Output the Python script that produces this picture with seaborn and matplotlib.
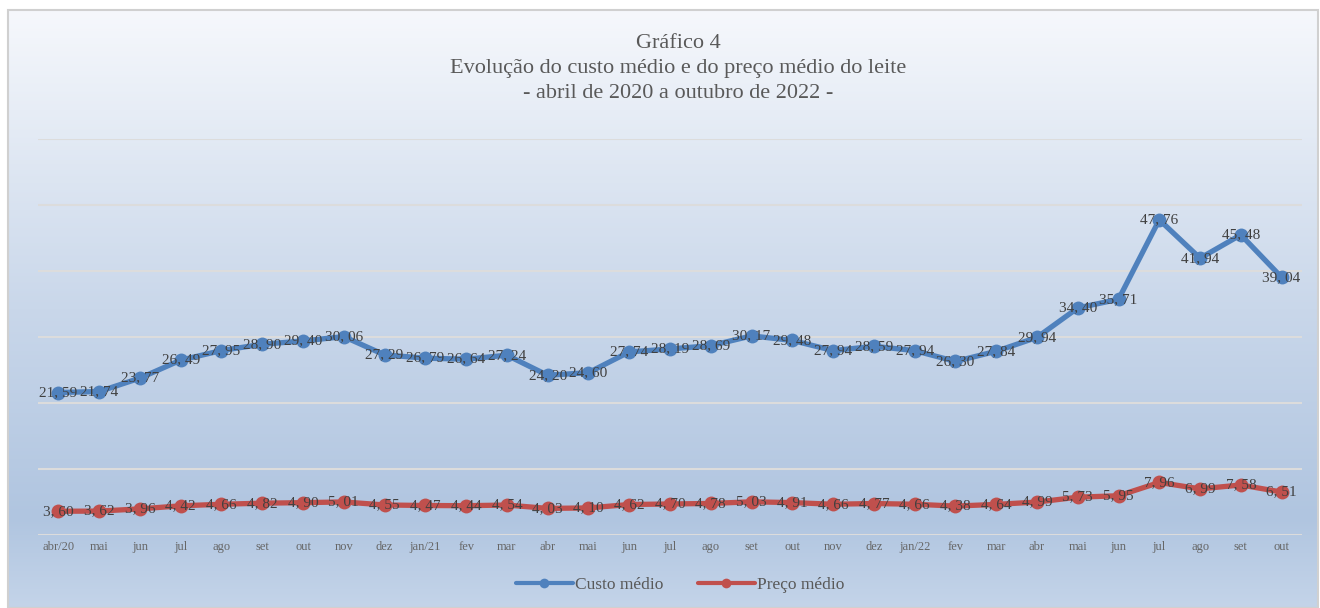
import numpy as np
import pandas as pd
import seaborn as sns
import matplotlib.pyplot as plt
from matplotlib.colors import LinearSegmentedColormap
from matplotlib.patches import Rectangle

# %% Dados (R$/litro - custo médio e preço médio do leite)

meses = ["abr/20", "mai", "jun", "jul", "ago", "set", "out", "nov", "dez",
         "jan/21", "fev", "mar", "abr", "mai", "jun", "jul", "ago", "set",
         "out", "nov", "dez", "jan/22", "fev", "mar", "abr", "mai", "jun",
         "jul", "ago", "set", "out"]

custo = [21.59, 21.74, 23.77, 26.49, 27.95, 28.90, 29.40, 30.06, 27.29,
         26.79, 26.64, 27.24, 24.20, 24.60, 27.74, 28.19, 28.69, 30.17,
         29.48, 27.94, 28.59, 27.94, 26.30, 27.84, 29.94, 34.40, 35.71,
         47.76, 41.94, 45.48, 39.04]

preco = [3.60, 3.62, 3.96, 4.42, 4.66, 4.82, 4.90, 5.01, 4.55, 4.47, 4.44,
         4.54, 4.03, 4.10, 4.62, 4.70, 4.78, 5.03, 4.91, 4.66, 4.77, 4.66,
         4.38, 4.64, 4.99, 5.73, 5.95, 7.96, 6.99, 7.58, 6.51]

series = ["Custo médio", "Preço médio"]
cores = {"Custo médio": "#4f81bd", "Preço médio": "#c0504d"}

df = pd.DataFrame({
    "pos": list(range(len(meses))) * 2,
    "valor": custo + preco,
    "serie": [series[0]] * len(custo) + [series[1]] * len(preco),
})

# %% Figura

sns.set_theme(style="white")
plt.rcParams["font.family"] = ["Liberation Serif", "DejaVu Serif"]

W, H = 1320, 608
fig = plt.figure(figsize=(W / 100, H / 100), dpi=100)
fig.patch.set_facecolor("white")

# fundo em degradê, como no Excel
bg = fig.add_axes([8 / W, 0, (W - 10) / W, (H - 10) / H])
cmap = LinearSegmentedColormap.from_list(
    "fundo",
    [(0.0, "#f6f8fc"), (0.5, "#c9d7ea"), (0.85, "#b0c5e0"), (1.0, "#c4d4e9")])
grad = np.linspace(0, 1, 256).reshape(-1, 1)
bg.imshow(grad, aspect="auto", cmap=cmap, extent=[0, 1, 0, 1], origin="upper")
bg.axis("off")
fig.add_artist(Rectangle((8 / W, 0), (W - 10) / W, (H - 10) / H,
                         transform=fig.transFigure, fill=False,
                         edgecolor="#d0d0d0", linewidth=1.5))

ax = fig.add_axes([38 / W, (H - 535) / H, (1302 - 38) / W, (535 - 139) / H])
ax.set_facecolor("none")

sns.lineplot(data=df, x="pos", y="valor", hue="serie", palette=cores,
             marker="o", markersize=10, markeredgewidth=0, linewidth=3.8,
             ax=ax)

# rótulos de dados
for vals in (custo, preco):
    for i, v in enumerate(vals):
        ax.text(i, v, f"{v:.2f}".replace(".", ", "), ha="center", va="center",
                fontsize=11, color="#404040", zorder=5)

ax.set_xlim(-0.5, len(meses) - 0.5)
ax.set_ylim(0, 60)
ax.set_yticks(range(0, 61, 10))
ax.set_yticklabels([])
ax.set_xticks(range(len(meses)))
ax.set_xticklabels(meses, fontsize=9, color="#666666")
ax.tick_params(axis="both", length=0)
ax.tick_params(axis="x", pad=4)
ax.set_xlabel("")
ax.set_ylabel("")
ax.grid(axis="y", color="#dcdcdc", linewidth=1.5)
ax.grid(axis="x", visible=False)
ax.set_axisbelow(True)
for s in ax.spines.values():
    s.set_visible(False)

handles, labels = ax.get_legend_handles_labels()
ax.get_legend().remove()
for h in handles:
    h.set_markersize(7)
    h.set_linewidth(3)
fig.legend(handles, labels, loc="center", bbox_to_anchor=(0.515, 1 - 585 / H),
           ncol=2, frameon=False, fontsize=12.5, handlelength=3.3,
           handletextpad=0.1, columnspacing=2.0, labelcolor="#595959")

titulo = ["Gráfico 4",
          "Evolução do custo médio e do preço médio do leite",
          "- abril de 2020 a outubro de 2022 -"]
for k, linha in enumerate(titulo):
    fig.text(678 / W, 1 - (44 + 25 * k) / H, linha, ha="center", va="center",
             fontsize=16, color="#595959")

fig.savefig("out.png", dpi=100)
